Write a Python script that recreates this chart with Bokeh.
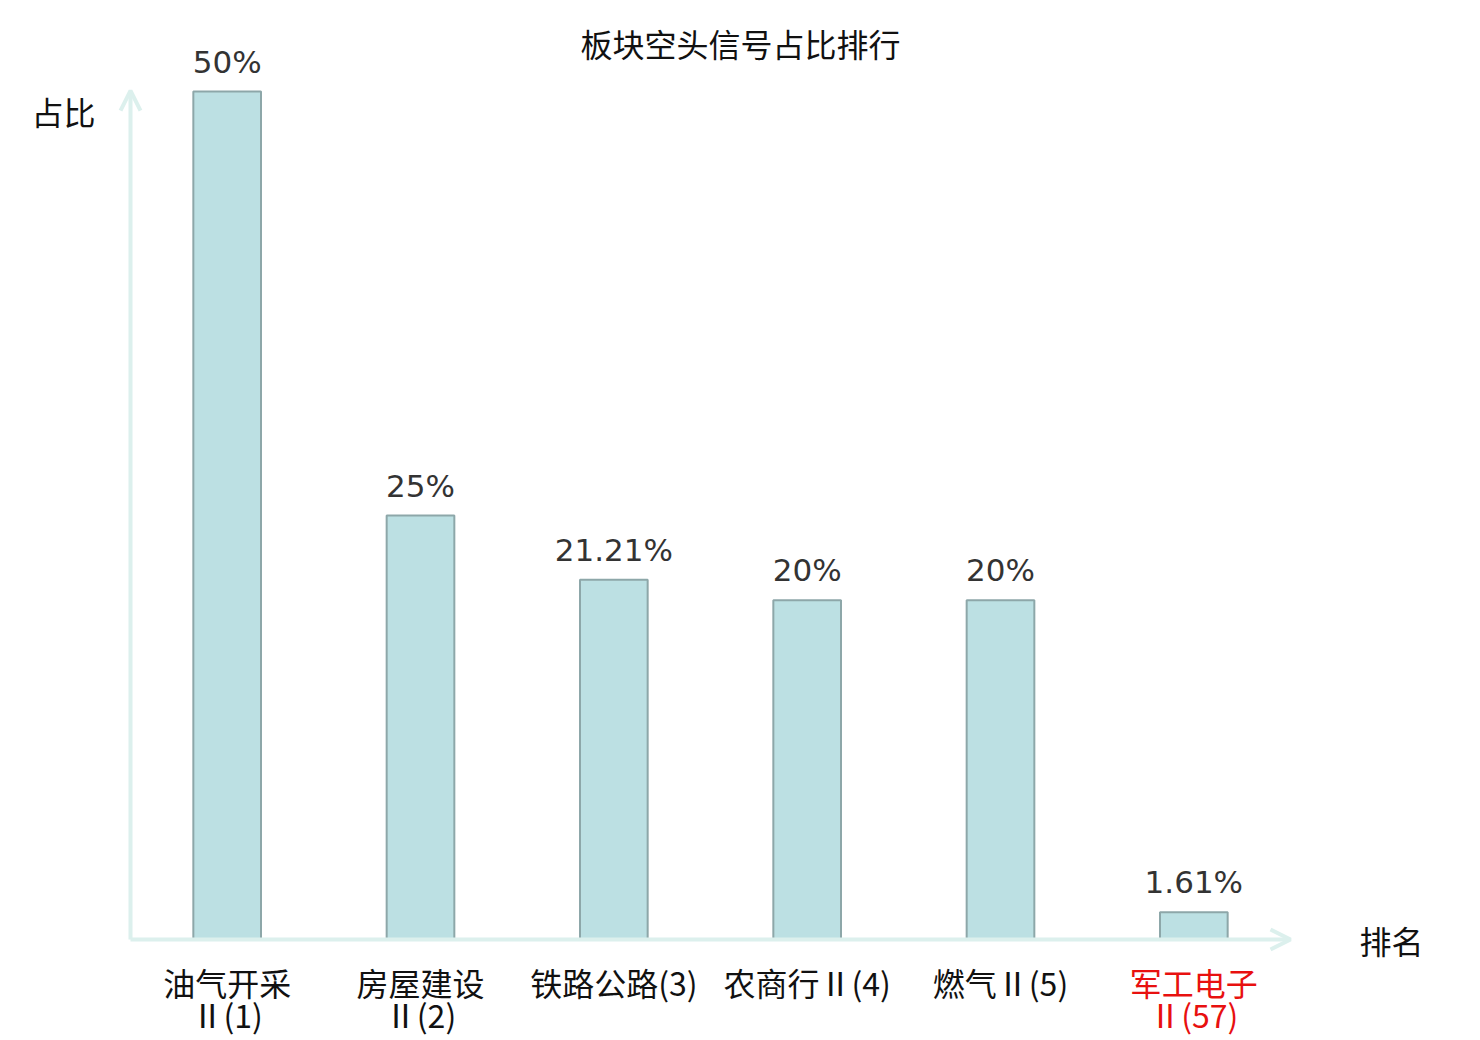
from bokeh.plotting import figure
from bokeh.models import Range1d, Arrow, OpenHead, ColumnDataSource
from bokeh.core.properties import value
from bokeh.embed import file_html
from bokeh.resources import INLINE

# ---- data ----
categories_line1 = ["油气开采", "房屋建设", "铁路公路(3)", "农商行Ⅱ(4)", "燃气Ⅱ(5)", "军工电子"]
categories_line2 = ["Ⅱ(1)", "Ⅱ(2)", "", "", "", "Ⅱ(57)"]
shares = [50, 25, 21.21, 20, 20, 1.61]
share_labels = ["50%", "25%", "21.21%", "20%", "20%", "1.61%"]
label_colors = ["#111111", "#111111", "#111111", "#111111", "#111111", "#E8100F"]
title_text = "板块空头信号占比排行"
y_axis_name = "占比"
x_axis_name = "排名"

# ---- layout ----
W, H = 1480, 1040
left_px, right_px, top_px, bottom_px = 130, 190, 91, 101
n = len(shares)
x0, x1 = -0.5, n - 0.5
y0, y1 = 0, 50
xs = (W - left_px - right_px) / (x1 - x0)
ys = (H - top_px - bottom_px) / (y1 - y0)

p = figure(width=W, height=H, output_backend="svg", toolbar_location=None,
           x_range=Range1d(x0 - left_px / xs, x1 + right_px / xs),
           y_range=Range1d(y0 - bottom_px / ys, y1 + top_px / ys),
           min_border=0, min_border_left=0, min_border_right=0,
           min_border_top=0, min_border_bottom=0)
p.axis.visible = False
p.grid.visible = False
p.outline_line_color = None
p.background_fill_color = "white"
p.border_fill_color = "white"

xpos = list(range(n))
src = ColumnDataSource(dict(x=xpos, top=shares, lab=share_labels,
                            c1=categories_line1, c2=categories_line2, col=label_colors,
                            zero=[0] * n))

axis_color = "#DCF0ED"
# axes with arrows
p.add_layout(Arrow(x_start=x0, y_start=0, x_end=x0, y_end=50.05,
                   line_color=axis_color, line_width=4,
                   end=OpenHead(size=20, line_color=axis_color, line_width=4)))
p.add_layout(Arrow(x_start=x0, y_start=0, x_end=x1, y_end=0,
                   line_color=axis_color, line_width=4,
                   end=OpenHead(size=20, line_color=axis_color, line_width=4)))

p.vbar(x="x", top="top", bottom=0, width=0.35, source=src,
       fill_color="#BCE0E3", line_color="#8DA7A9", line_width=2)

p.text(x="x", y="top", text="lab", source=src, text_align="center",
       text_baseline="middle", y_offset=-30, text_font=value("DejaVu Sans"),
       text_font_size="31px", text_color="#333333")

p.text(x="x", y="zero", text="c1", source=src, text_align="center",
       text_baseline="middle", y_offset=42, text_font=value("Noto Sans CJK SC"),
       text_font_size="32px", text_color="col")
p.text(x="x", y="zero", text="c2", source=src, text_align="center",
       text_baseline="middle", y_offset=74, text_font=value("Noto Sans CJK SC"),
       text_font_size="32px", text_color="col")

# axis names and title
p.text(x=[x0 - 67 / xs], y=[50 - 19 / ys], text=[y_axis_name], text_align="center",
       text_baseline="middle", text_font=value("Noto Sans CJK SC"),
       text_font_size="32px", text_color="#111111")
p.text(x=[x1 + 101 / xs], y=[0], text=[x_axis_name], text_align="center",
       text_baseline="middle", y_offset=0, text_font=value("Noto Sans CJK SC"),
       text_font_size="32px", text_color="#111111")
p.text(x=[(x0 - left_px / xs + x1 + right_px / xs) / 2], y=[50], text=[title_text],
       text_align="center", text_baseline="middle", y_offset=-49,
       text_font=value("Noto Sans CJK SC"), text_font_size="32px", text_color="#111111")

open("out.html", "w").write(file_html(p, INLINE))
